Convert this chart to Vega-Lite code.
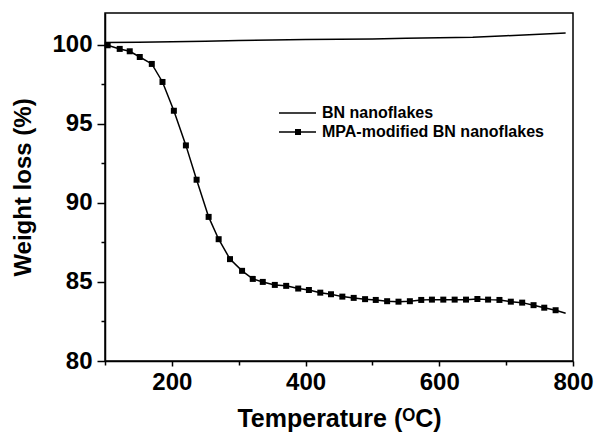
{
  "$schema": "https://vega.github.io/schema/vega-lite/v6.json",
  "autosize": {"type": "none"},
  "padding": {"left": 105, "top": 13, "right": 22, "bottom": 72},
  "width": 468,
  "height": 348,
  "background": "white",
  "config": {
    "view": {"stroke": "black", "strokeWidth": 1.5},
    "font": "Liberation Sans",
    "axis": {
      "domainColor": "black", "domainWidth": 1.5,
      "tickColor": "black", "tickWidth": 1.5,
      "labelFont": "Liberation Sans", "labelFontWeight": "bold", "labelFontSize": 24, "labelColor": "black",
      "titleFont": "Liberation Sans", "titleFontWeight": "bold", "titleFontSize": 24, "titleColor": "black",
      "grid": false
    },
    "legend": {
      "labelFont": "Liberation Sans", "labelFontWeight": "bold", "labelFontSize": 16, "labelColor": "black", "labelLimit": 400
    }
  },
  "datasets": {
    "curves": [
      {"series": "BN nanoflakes", "T": 100, "V": 100.13},
      {"series": "BN nanoflakes", "T": 150, "V": 100.15},
      {"series": "BN nanoflakes", "T": 200, "V": 100.18},
      {"series": "BN nanoflakes", "T": 250, "V": 100.22},
      {"series": "BN nanoflakes", "T": 300, "V": 100.26},
      {"series": "BN nanoflakes", "T": 350, "V": 100.29},
      {"series": "BN nanoflakes", "T": 400, "V": 100.32},
      {"series": "BN nanoflakes", "T": 450, "V": 100.34},
      {"series": "BN nanoflakes", "T": 500, "V": 100.36},
      {"series": "BN nanoflakes", "T": 550, "V": 100.40},
      {"series": "BN nanoflakes", "T": 600, "V": 100.43},
      {"series": "BN nanoflakes", "T": 650, "V": 100.46},
      {"series": "BN nanoflakes", "T": 700, "V": 100.56},
      {"series": "BN nanoflakes", "T": 750, "V": 100.66},
      {"series": "BN nanoflakes", "T": 789, "V": 100.74},
      {"series": "MPA-modified BN nanoflakes", "T": 100, "V": 100.0},
      {"series": "MPA-modified BN nanoflakes", "T": 104, "V": 99.96},
      {"series": "MPA-modified BN nanoflakes", "T": 122, "V": 99.73},
      {"series": "MPA-modified BN nanoflakes", "T": 137, "V": 99.58},
      {"series": "MPA-modified BN nanoflakes", "T": 152, "V": 99.22},
      {"series": "MPA-modified BN nanoflakes", "T": 170, "V": 98.78},
      {"series": "MPA-modified BN nanoflakes", "T": 186, "V": 97.64},
      {"series": "MPA-modified BN nanoflakes", "T": 203, "V": 95.82},
      {"series": "MPA-modified BN nanoflakes", "T": 221, "V": 93.63},
      {"series": "MPA-modified BN nanoflakes", "T": 237, "V": 91.46},
      {"series": "MPA-modified BN nanoflakes", "T": 255, "V": 89.11},
      {"series": "MPA-modified BN nanoflakes", "T": 270, "V": 87.70},
      {"series": "MPA-modified BN nanoflakes", "T": 287, "V": 86.44},
      {"series": "MPA-modified BN nanoflakes", "T": 305, "V": 85.70},
      {"series": "MPA-modified BN nanoflakes", "T": 321, "V": 85.19},
      {"series": "MPA-modified BN nanoflakes", "T": 336, "V": 85.00},
      {"series": "MPA-modified BN nanoflakes", "T": 354, "V": 84.81},
      {"series": "MPA-modified BN nanoflakes", "T": 371, "V": 84.75},
      {"series": "MPA-modified BN nanoflakes", "T": 389, "V": 84.58},
      {"series": "MPA-modified BN nanoflakes", "T": 405, "V": 84.49},
      {"series": "MPA-modified BN nanoflakes", "T": 422, "V": 84.32},
      {"series": "MPA-modified BN nanoflakes", "T": 438, "V": 84.22},
      {"series": "MPA-modified BN nanoflakes", "T": 455, "V": 84.07},
      {"series": "MPA-modified BN nanoflakes", "T": 472, "V": 83.99},
      {"series": "MPA-modified BN nanoflakes", "T": 489, "V": 83.91},
      {"series": "MPA-modified BN nanoflakes", "T": 505, "V": 83.86},
      {"series": "MPA-modified BN nanoflakes", "T": 522, "V": 83.78},
      {"series": "MPA-modified BN nanoflakes", "T": 539, "V": 83.75},
      {"series": "MPA-modified BN nanoflakes", "T": 556, "V": 83.78},
      {"series": "MPA-modified BN nanoflakes", "T": 573, "V": 83.86},
      {"series": "MPA-modified BN nanoflakes", "T": 589, "V": 83.88},
      {"series": "MPA-modified BN nanoflakes", "T": 606, "V": 83.88},
      {"series": "MPA-modified BN nanoflakes", "T": 623, "V": 83.88},
      {"series": "MPA-modified BN nanoflakes", "T": 640, "V": 83.88},
      {"series": "MPA-modified BN nanoflakes", "T": 657, "V": 83.92},
      {"series": "MPA-modified BN nanoflakes", "T": 673, "V": 83.88},
      {"series": "MPA-modified BN nanoflakes", "T": 690, "V": 83.86},
      {"series": "MPA-modified BN nanoflakes", "T": 707, "V": 83.75},
      {"series": "MPA-modified BN nanoflakes", "T": 724, "V": 83.69},
      {"series": "MPA-modified BN nanoflakes", "T": 741, "V": 83.53},
      {"series": "MPA-modified BN nanoflakes", "T": 757, "V": 83.37},
      {"series": "MPA-modified BN nanoflakes", "T": 774, "V": 83.21},
      {"series": "MPA-modified BN nanoflakes", "T": 789, "V": 83.02}
    ],
    "legendEntries": [
      {"series": "BN nanoflakes"},
      {"series": "MPA-modified BN nanoflakes"}
    ]
  },
  "resolve": {"axis": {"x": "independent", "y": "independent"}},
  "layer": [
    {
      "data": {"name": "curves"},
      "mark": {"type": "line", "color": "black", "strokeWidth": 1.5},
      "encoding": {
        "x": {"field": "T", "type": "quantitative",
              "scale": {"domain": [100, 800], "nice": false, "zero": false},
              "axis": {"orient": "bottom", "values": [200, 400, 600, 800], "tickSize": 5, "labelPadding": 4,
                       "title": "Temperature (ᴼC)", "titlePadding": 12, "titleFontSize": 25, "labelFlush": false}},
        "y": {"field": "V", "type": "quantitative",
              "scale": {"domain": [80, 102], "nice": false, "zero": false},
              "axis": {"orient": "left", "values": [80, 85, 90, 95, 100], "tickSize": 8, "labelPadding": 5,
                       "title": "Weight loss (%)", "titlePadding": 16, "labelFlush": false}},
        "detail": {"field": "series", "type": "nominal"}
      }
    },
    {
      "data": {"name": "curves"},
      "transform": [
        {"filter": "datum.series == 'MPA-modified BN nanoflakes' && datum.T > 101 && datum.T < 785"}
      ],
      "mark": {"type": "point", "shape": "square", "filled": true, "color": "black", "size": 36, "opacity": 1},
      "encoding": {
        "x": {"field": "T", "type": "quantitative",
              "scale": {"domain": [100, 800], "nice": false, "zero": false},
              "axis": {"orient": "bottom", "values": [100, 300, 500, 700], "tickSize": 4, "labels": false, "domain": false, "title": null}},
        "y": {"field": "V", "type": "quantitative",
              "scale": {"domain": [80, 102], "nice": false, "zero": false},
              "axis": {"orient": "left", "values": [82.5, 87.5, 92.5, 97.5], "tickSize": 4, "labels": false, "domain": false, "title": null}}
      }
    },
    {
      "data": {"name": "legendEntries"},
      "mark": {"type": "point", "filled": true, "color": "black", "opacity": 1},
      "encoding": {
        "x": {"field": "T", "type": "quantitative", "axis": null},
        "y": {"field": "V", "type": "quantitative", "axis": null},
        "shape": {
          "field": "series", "type": "nominal",
          "scale": {
            "domain": ["BN nanoflakes", "MPA-modified BN nanoflakes"],
            "range": ["M-2.9,-0.07H0.8V0.07H-2.9Z", "M-2.9,-0.07H0.8V0.07H-2.9ZM-1.3,-0.3H-0.7V0.3H-1.3Z"]
          },
          "legend": {
            "title": null, "orient": "none", "legendX": 192, "legendY": 89, "padding": 0,
            "symbolSize": 400, "symbolFillColor": "black",
            "symbolOpacity": 1, "rowPadding": 0, "labelOffset": 3, "labelLimit": 400
          }
        }
      }
    }
  ]
}
